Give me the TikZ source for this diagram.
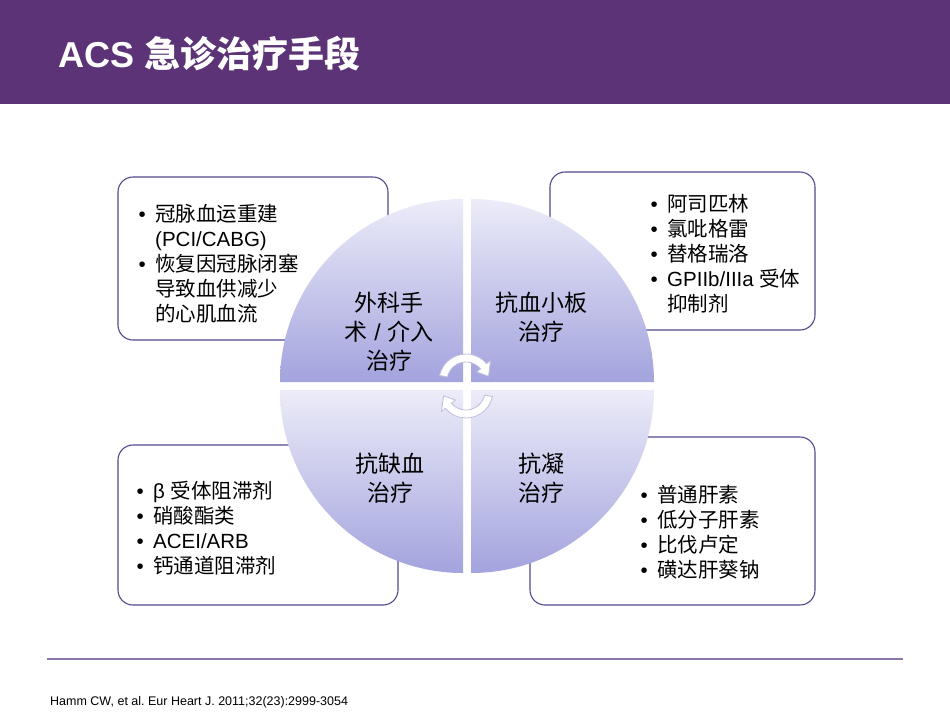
\documentclass[tikz,border=0pt]{standalone}
\usepackage{fontspec}
\setmainfont{Liberation Sans}
\newfontfamily\cjk{Noto Sans CJK SC}
\usetikzlibrary{calc}
\frenchspacing
\definecolor{hdr}{RGB}{92,51,118}
\definecolor{boxline}{RGB}{82,72,140}
\definecolor{qlight}{RGB}{236,236,249}
\definecolor{qdark}{RGB}{163,163,222}
\definecolor{arrline}{RGB}{190,190,220}
\definecolor{rulec}{RGB}{138,118,168}
\newcommand{\zh}[1]{{\cjk #1}}
\newcommand{\bul}[1]{\makebox[16.5pt][l]{•}#1}
\newcommand{\cont}[1]{\hspace*{16.5pt}#1}
\tikzset{
  infobox/.style={draw=boxline, line width=1.1pt, fill=white, rounded corners=15pt, inner sep=0pt},
  listtext/.style={anchor=base west, inner sep=0pt, font=\fontsize{20.5}{25.2}\selectfont},
  quadtext/.style={anchor=center, inner sep=0pt, align=center, font=\fontsize{23}{29}\selectfont},
  quad/.style={top color=qlight, bottom color=qdark, draw=none},
  cycarrow/.style={fill=white, draw=arrline, line width=0.8pt, line join=round}
}
\begin{document}
\begin{tikzpicture}[x=1pt,y=-1pt]
\path[use as bounding box] (0,0) rectangle (950,713);
% header
\fill[hdr] (0,0) rectangle (950,104);
\node[anchor=base west, inner sep=0pt, text=white, font=\fontsize{36}{40}\selectfont\bfseries] (title) at (58,67) {ACS \zh{急诊治疗手段}};

% boxes
\node[infobox, minimum width=270, minimum height=163] (boxTL) at (253,258.5) {};
\node[infobox, minimum width=265, minimum height=158] (boxTR) at (682.5,251) {};
\node[infobox, minimum width=280, minimum height=160] (boxBL) at (258,525) {};
\node[infobox, minimum width=285, minimum height=168] (boxBR) at (672.5,521) {};

% box texts
\node[listtext] (txtTL) at (138.5,221) {\begin{tabular}[t]{@{}l@{}}
\bul{\zh{冠脉血运重建}}\\
\cont{(PCI/CABG)}\\
\bul{\zh{恢复因冠脉闭塞}}\\
\cont{\zh{导致血供减少}}\\
\cont{\zh{的心肌血流}}
\end{tabular}};
\node[listtext] (txtTR) at (650.5,211) {\begin{tabular}[t]{@{}l@{}}
\bul{\zh{阿司匹林}}\\
\bul{\zh{氯吡格雷}}\\
\bul{\zh{替格瑞洛}}\\
\bul{GPIIb/IIIa \zh{受体}}\\
\cont{\zh{抑制剂}}
\end{tabular}};
\node[listtext] (txtBL) at (136.5,498) {\begin{tabular}[t]{@{}l@{}}
\bul{β \zh{受体阻滞剂}}\\
\bul{\zh{硝酸酯类}}\\
\bul{ACEI/ARB}\\
\bul{\zh{钙通道阻滞剂}}
\end{tabular}};
\node[listtext] (txtBR) at (640.5,502) {\begin{tabular}[t]{@{}l@{}}
\bul{\zh{普通肝素}}\\
\bul{\zh{低分子肝素}}\\
\bul{\zh{比伐卢定}}\\
\bul{\zh{磺达肝葵钠}}
\end{tabular}};

% quadrants
\path[quad] (463,382) -- (280,382) arc[start angle=180, end angle=270, radius=183] -- cycle;
\path[quad] (471,382) -- (471,199) arc[start angle=270, end angle=360, radius=183] -- cycle;
\path[quad] (463,390) -- (280,390) arc[start angle=180, end angle=90, radius=183] -- cycle;
\path[quad] (471,390) -- (654,390) arc[start angle=0, end angle=90, radius=183] -- cycle;

% quadrant labels
\node[quadtext] (qTL) at (389,332) {\zh{外科手}\\\zh{术} / \zh{介入}\\\zh{治疗}};
\node[quadtext] (qTR) at (541.5,317.5) {\zh{抗血小板}\\\zh{治疗}};
\node[quadtext] (qBL) at (390,478) {\zh{抗缺血}\\\zh{治疗}};
\node[quadtext] (qBR) at (541.5,478) {\zh{抗凝}\\\zh{治疗}};

% cycle arrows
\coordinate (ca) at (466,381);
\coordinate (cb) at (466,391);
\draw[cycarrow] ($(ca)+(-168:27)$) arc[start angle=-168, end angle=-40, radius=27]
  -- ($(ca)+(-40:32)$) -- ($(ca)+(-12:23)$) -- ($(ca)+(-40:14)$)
  -- ($(ca)+(-40:19)$) arc[start angle=-40, end angle=-168, radius=19] -- cycle;
\draw[cycarrow] ($(cb)+(12:27)$) arc[start angle=12, end angle=140, radius=27]
  -- ($(cb)+(140:32)$) -- ($(cb)+(168:23)$) -- ($(cb)+(140:14)$)
  -- ($(cb)+(140:19)$) arc[start angle=140, end angle=12, radius=19] -- cycle;

% footer
\coordinate (ruleL) at (47,659);
\coordinate (ruleR) at (903,659);
\draw[rulec, line width=2pt] (ruleL) -- (ruleR);
\node[anchor=base west, inner sep=0pt, font=\fontsize{12.5}{14}\selectfont] (cite) at (50,705) {Hamm CW, et al. Eur Heart J. 2011;32(23):2999-3054};
\end{tikzpicture}
\end{document}
